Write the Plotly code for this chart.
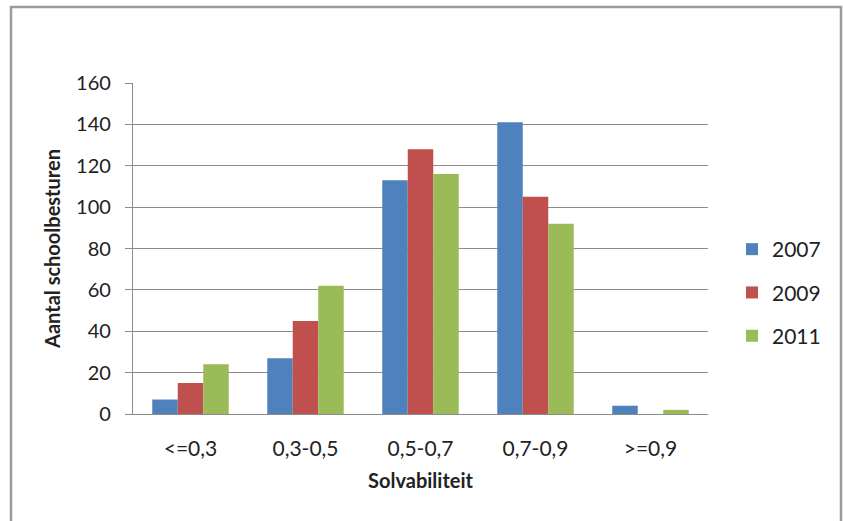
import plotly.graph_objects as go

# Solvability classes and number of school boards per year
categories = ["<=0,3", "0,3-0,5", "0,5-0,7", "0,7-0,9", ">=0,9"]
years = ["2007", "2009", "2011"]
values_2007 = [7, 27, 113, 141, 4]
values_2009 = [15, 45, 128, 105, 0]
values_2011 = [24, 62, 116, 92, 2]
y_ticks = [0, 20, 40, 60, 80, 100, 120, 140, 160]

colors = ["#4F81BD", "#C0504D", "#9BBB59"]
series = [values_2007, values_2009, values_2011]

FONT = "Lato, Carlito, Calibri, sans-serif"
W, H = 843, 521
L, R, T, B = 133, 135, 83, 107

fig = go.Figure()
for i, (name, vals) in enumerate(zip(years, series)):
    fig.add_trace(go.Bar(
        x=categories, y=vals, name=name,
        marker=dict(color=colors[i], line=dict(width=0)),
        legendgroup=name,
    ))

pw = W - L - R
ph = H - T - B

def px_to_paper_x(px):
    return (px - L) / pw

def px_to_paper_y(py):
    return (H - B - py) / ph

# Outer chart border
fig.add_shape(
    type="rect", xref="paper", yref="paper",
    x0=px_to_paper_x(11), x1=px_to_paper_x(841),
    y0=px_to_paper_y(540), y1=px_to_paper_y(7),
    line=dict(color="#9B9B9B", width=2.5), fillcolor="rgba(0,0,0,0)",
    layer="below",
)

fig.update_layout(
    width=W, height=H,
    margin=dict(l=L, r=R, t=T, b=B),
    paper_bgcolor="white", plot_bgcolor="white",
    barmode="group", bargap=0.335, bargroupgap=0,
    font=dict(family=FONT, color="#222222", size=20),
    showlegend=True,
    legend=dict(
        x=px_to_paper_x(732), y=px_to_paper_y(229), xanchor="left", yanchor="top",
        font=dict(size=21, family=FONT, color="#222222"),
        tracegroupgap=13, bgcolor="rgba(0,0,0,0)",
        itemwidth=30,
    ),
    xaxis=dict(
        showline=True, linecolor="#8C8C8C", linewidth=1.2,
        ticks="", showgrid=False,
        tickfont=dict(size=21, family=FONT, color="#222222"),
        ticklabelstandoff=16,
        title=dict(text="<b>Solvabiliteit</b>", font=dict(size=20, family=FONT, color="#222222"), standoff=14),
    ),
    yaxis=dict(
        range=[0, 160], tickvals=y_ticks,
        showline=True, linecolor="#8C8C8C", linewidth=1.2,
        ticks="outside", ticklen=7, tickcolor="#8C8C8C",
        showgrid=True, gridcolor="#8C8C8C", gridwidth=1.2,
        zeroline=False,
        tickfont=dict(size=20, family=FONT, color="#222222"),
        ticklabelstandoff=10,
        title=dict(text="<b>Aantal schoolbesturen</b>", font=dict(size=20, family=FONT, color="#222222"), standoff=10),
    ),
)

fig.write_html("out.html")
